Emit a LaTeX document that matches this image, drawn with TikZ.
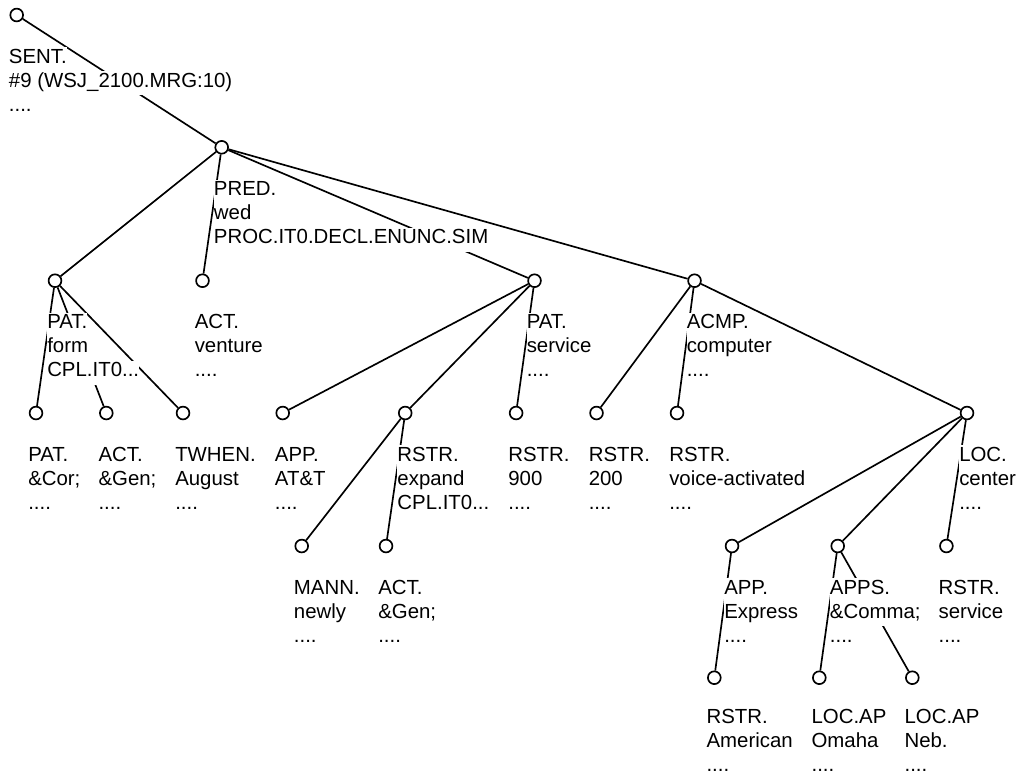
\documentclass[tikz,border=0pt]{standalone}
\usepackage{fontspec}
\setmainfont{Liberation Sans}
\usetikzlibrary{calc}

% one text row on an opaque white strip, 12pt above and 6pt below the baseline
\newcommand\R[1]{{\setlength\fboxsep{0pt}\colorbox{white}{\rule[-6pt]{0pt}{18pt}#1}}}
% a closing row with a shallow strip, for labels at the lower edge
\newcommand\Rl[1]{{\setlength\fboxsep{0pt}\colorbox{white}{\rule[-1pt]{0pt}{13pt}#1}}}

\begin{document}
\begin{tikzpicture}[x=0.75pt,y=-0.75pt,
  tn/.style={circle,draw,fill=white,line width=1.25pt,inner sep=0pt,minimum size=9.6pt},
  edge/.style={line width=1.25pt},
  lab/.style={anchor=north west,inner sep=0pt,align=left,
              font=\fontsize{15.3}{18}\selectfont}]
\useasboundingbox (0,0) rectangle (1020,776);

% tree nodes
\node[tn] (root) at (16.7,15) {};
\node[tn] (pred) at (221.7,147.3) {};
\node[tn] (patf) at (55,280.7) {};
\node[tn] (actv) at (202.5,280.7) {};
\node[tn] (pats) at (534.5,280.7) {};
\node[tn] (acmp) at (694.5,280.7) {};
\node[tn] (patc) at (36,413) {};
\node[tn] (actg) at (106.3,413) {};
\node[tn] (twhen) at (183,413) {};
\node[tn] (app) at (282.7,413) {};
\node[tn] (rexp) at (405.2,413) {};
\node[tn] (r900) at (516.1,413) {};
\node[tn] (r200) at (596.5,413) {};
\node[tn] (rvoi) at (677,413) {};
\node[tn] (loc) at (967,413) {};
\node[tn] (mann) at (301.7,546) {};
\node[tn] (actg2) at (386,546) {};
\node[tn] (appe) at (732,546) {};
\node[tn] (apps) at (837.7,546) {};
\node[tn] (rserv) at (946.4,546) {};
\node[tn] (ramer) at (714.3,677.7) {};
\node[tn] (lomaha) at (819.3,677.7) {};
\node[tn] (lneb) at (912.3,677.7) {};

% edges
\draw[edge] (root) -- (pred);
\draw[edge] (pred) -- (patf);
\draw[edge] (pred) -- (actv);
\draw[edge] (pred) -- (pats);
\draw[edge] (pred) -- (acmp);
\draw[edge] (patf) -- (patc);
\draw[edge] (patf) -- (actg);
\draw[edge] (patf) -- (twhen);
\draw[edge] (pats) -- (app);
\draw[edge] (pats) -- (rexp);
\draw[edge] (pats) -- (r900);
\draw[edge] (rexp) -- (mann);
\draw[edge] (rexp) -- (actg2);
\draw[edge] (acmp) -- (r200);
\draw[edge] (acmp) -- (rvoi);
\draw[edge] (acmp) -- (loc);
\draw[edge] (loc) -- (appe);
\draw[edge] (loc) -- (apps);
\draw[edge] (loc) -- (rserv);
\draw[edge] (appe) -- (ramer);
\draw[edge] (apps) -- (lomaha);
\draw[edge] (apps) -- (lneb);

% labels below each node
\node[lab] (root-t) at ($(root)+(-8,32)$) {\R{SENT.}\\\R{\#9 (WSJ\_2100.MRG:10)}\\\R{....}};
\node[lab] (pred-t) at ($(pred)+(-8,32)$) {\R{PRED.}\\\R{wed}\\\R{PROC.IT0.DECL.ENUNC.SIM}};
\node[lab] (patf-t) at ($(patf)+(-8,32)$) {\R{PAT.}\\\R{form}\\\R{CPL.IT0...}};
\node[lab] (actv-t) at ($(actv)+(-8,32)$) {\R{ACT.}\\\R{venture}\\\R{....}};
\node[lab] (pats-t) at ($(pats)+(-8,32)$) {\R{PAT.}\\\R{service}\\\R{....}};
\node[lab] (acmp-t) at ($(acmp)+(-8,32)$) {\R{ACMP.}\\\R{computer}\\\R{....}};
\node[lab] (patc-t) at ($(patc)+(-8,32)$) {\R{PAT.}\\\R{\&Cor;}\\\R{....}};
\node[lab] (actg-t) at ($(actg)+(-8,32)$) {\R{ACT.}\\\R{\&Gen;}\\\R{....}};
\node[lab] (twhen-t) at ($(twhen)+(-8,32)$) {\R{TWHEN.}\\\R{August}\\\R{....}};
\node[lab] (app-t) at ($(app)+(-8,32)$) {\R{APP.}\\\R{AT\&T}\\\R{....}};
\node[lab] (rexp-t) at ($(rexp)+(-8,32)$) {\R{RSTR.}\\\R{expand}\\\R{CPL.IT0...}};
\node[lab] (r900-t) at ($(r900)+(-8,32)$) {\R{RSTR.}\\\R{900}\\\R{....}};
\node[lab] (r200-t) at ($(r200)+(-8,32)$) {\R{RSTR.}\\\R{200}\\\R{....}};
\node[lab] (rvoi-t) at ($(rvoi)+(-8,32)$) {\R{RSTR.}\\\R{voice-activated}\\\R{....}};
\node[lab] (loc-t) at ($(loc)+(-8,32)$) {\R{LOC.}\\\R{center}\\\R{....}};
\node[lab] (mann-t) at ($(mann)+(-8,32)$) {\R{MANN.}\\\R{newly}\\\R{....}};
\node[lab] (actg2-t) at ($(actg2)+(-8,32)$) {\R{ACT.}\\\R{\&Gen;}\\\R{....}};
\node[lab] (appe-t) at ($(appe)+(-8,32)$) {\R{APP.}\\\R{Express}\\\R{....}};
\node[lab] (apps-t) at ($(apps)+(-8,32)$) {\R{APPS.}\\\R{\&Comma;}\\\R{....}};
\node[lab] (rserv-t) at ($(rserv)+(-8,32)$) {\R{RSTR.}\\\R{service}\\\R{....}};
\node[lab] (ramer-t) at ($(ramer)+(-8,29.3)$) {\R{RSTR.}\\\R{American}\\\Rl{....}};
\node[lab] (lomaha-t) at ($(lomaha)+(-8,29.3)$) {\R{LOC.AP}\\\R{Omaha}\\\Rl{....}};
\node[lab] (lneb-t) at ($(lneb)+(-8,29.3)$) {\R{LOC.AP}\\\R{Neb.}\\\Rl{....}};
\end{tikzpicture}
\end{document}
